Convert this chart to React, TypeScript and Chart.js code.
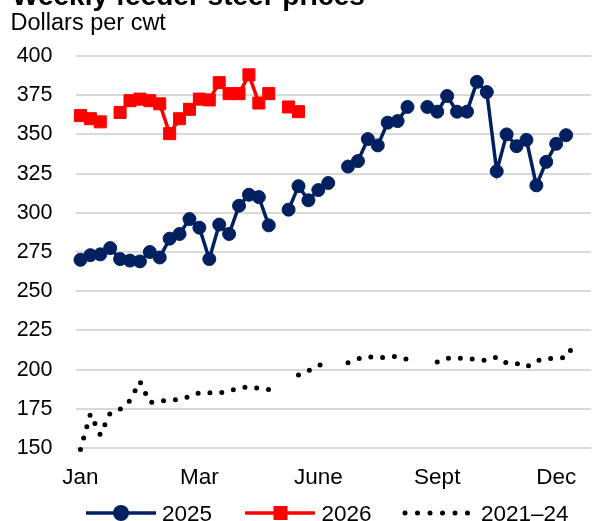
import React, { useEffect, useRef } from 'react';
import { Chart, registerables } from 'chart.js';

Chart.register(...registerables);

// ---- Data ----
const weeks: string[] = Array.from({ length: 52 }, (_, i) => `Week ${i + 1}`);
const monthTickWeeks = [0, 12, 24, 36, 48];
const monthTickLabels = ['Jan', 'Mar', 'June', 'Sept', 'Dec'];

const yMin = 150;
const yMax = 400;
const yStep = 25;

const prices2025: (number | null)[] = [
  270, 273, 273.5, 277.5, 270.5, 269.5, 269, 275, 271.5, 283.5,
  286.5, 296, 290.5, 270.5, 292.5, 286.5, 304.5, 311.5, 310, 292,
  null, 302, 317, 308, 314.5, 319, null, 329.5, 333, 347,
  343, 357.5, 358.5, 367.5, null, 367.5, 364.5, 374.5, 364.5, 364.5,
  383.5, 377, 326.5, 350, 342.5, 346.5, 317.5, 332.5, 344, 349.5,
  null, null,
];

const prices2026: (number | null)[] = [
  362, 360, 358, null, 364, 371.5, 372.5, 371.5, 369.5, 350.5,
  360, 366, 372.5, 372, 383, 376, 376, 388, 370, 376,
  null, 367.5, 364.5,
];

const avg2021to24: (number | null)[] = [
  149, 171.7, 158.3, 172.3, 174.7, 180.3, 192.4, 179, 180, 180.5,
  180.9, 182.8, 185.3, 185.3, 185.1, 186.4, 188.3, 189.1, 188, 187.3,
  188.8, null, 196.5, 199.3, 202.5, 204.8, null, 204.4, 206.8, 208.4,
  207.4, 208.2, 208.4, 206.4, 205.8, null, 204.8, 207.2, 207.2, 207.1,
  206.4, 205.8, 208, 204.2, 203.9, 201.7, 205.5, 207.1, 207.2, 207.7,
  218, null,
];

const seriesNames = ['2025', '2026', '2021\u201324'];
const titleText = 'Weekly feeder steer prices';
const unitText = 'Dollars per cwt';

// ---- Styles ----
const NAVY = '#002060';
const RED = '#FF0000';
const BLACK = '#000000';
const GRID = '#D9D9D9';
const FONT = '"Liberation Sans", Arial, Helvetica, sans-serif';

const overlayPlugin = {
  id: 'overlay',
  afterDraw(chart: any) {
    const ctx: CanvasRenderingContext2D = chart.ctx;
    ctx.save();
    ctx.fillStyle = '#000';
    ctx.textAlign = 'left';
    ctx.textBaseline = 'alphabetic';
    ctx.font = `bold 28px ${FONT}`;
    ctx.fillText(titleText, 12, 5);
    ctx.font = `23.5px ${FONT}`;
    ctx.fillText(unitText, 10.5, 29.5);

    // legend
    const ly = 513;
    const textBase = 520.5;
    ctx.font = `22.5px ${FONT}`;
    // 2025
    ctx.strokeStyle = NAVY;
    ctx.lineWidth = 3.5;
    ctx.beginPath();
    ctx.moveTo(86, ly);
    ctx.lineTo(156, ly);
    ctx.stroke();
    ctx.fillStyle = NAVY;
    ctx.beginPath();
    ctx.arc(121, ly, 8, 0, Math.PI * 2);
    ctx.fill();
    ctx.fillStyle = '#000';
    ctx.fillText(seriesNames[0], 162, textBase);
    // 2026
    ctx.strokeStyle = RED;
    ctx.beginPath();
    ctx.moveTo(245, ly);
    ctx.lineTo(315, ly);
    ctx.stroke();
    ctx.fillStyle = RED;
    ctx.fillRect(280.5 - 7, ly - 7, 14, 14);
    ctx.fillStyle = '#000';
    ctx.fillText(seriesNames[1], 321.5, textBase);
    // 2021-24
    ctx.fillStyle = BLACK;
    for (let k = 0; k < 6; k++) {
      ctx.beginPath();
      ctx.arc(405 + k * 12.5, ly, 2.5, 0, Math.PI * 2);
      ctx.fill();
    }
    ctx.fillStyle = '#000';
    ctx.fillText(seriesNames[2], 481, textBase);
    ctx.restore();
  },
};

export default function App() {
  const canvasRef = useRef<HTMLCanvasElement | null>(null);

  useEffect(() => {
    if (!canvasRef.current) return;
    Chart.defaults.font.family = FONT;
    const chart = new Chart(canvasRef.current, {
      type: 'line',
      data: {
        labels: weeks,
        datasets: [
          {
            label: seriesNames[0],
            data: prices2025,
            borderColor: NAVY,
            backgroundColor: NAVY,
            borderWidth: 3.5,
            pointStyle: 'circle',
            pointRadius: 6.5,
            pointBorderWidth: 1,
            pointBorderColor: NAVY,
            pointBackgroundColor: NAVY,
            spanGaps: false,
            tension: 0,
          },
          {
            label: seriesNames[1],
            data: prices2026,
            borderColor: RED,
            backgroundColor: RED,
            borderWidth: 3.5,
            pointStyle: 'rect',
            pointRadius: 8.5,
            pointBorderWidth: 1,
            pointBorderColor: RED,
            pointBackgroundColor: RED,
            spanGaps: false,
            tension: 0,
          },
          {
            label: seriesNames[2],
            data: avg2021to24,
            borderColor: BLACK,
            borderWidth: 5,
            borderDash: [0, 11.9],
            borderCapStyle: 'round',
            pointRadius: 0,
            spanGaps: false,
            tension: 0,
            clip: false,
          } as any,
        ],
      },
      options: {
        responsive: false,
        devicePixelRatio: 1,
        animation: false,
        events: [],
        layout: { padding: { top: 56, left: 0, right: 0, bottom: 0 } },
        plugins: {
          legend: { display: false },
          tooltip: { enabled: false },
          title: { display: false },
        },
        scales: {
          x: {
            type: 'category',
            offset: true,
            grid: { display: false, drawTicks: false },
            border: { display: false },
            ticks: {
              autoSkip: false,
              maxRotation: 0,
              minRotation: 0,
              padding: 16,
              color: '#000',
              font: { size: 22.5, family: FONT },
              callback: (_v: any, index: number) => {
                const k = monthTickWeeks.indexOf(index);
                return k >= 0 ? monthTickLabels[k] : '';
              },
            },
            afterFit: (scale: any) => {
              scale.height = 73;
            },
          },
          y: {
            min: yMin,
            max: yMax,
            grid: { color: GRID, lineWidth: 2, drawTicks: false },
            border: { display: false },
            ticks: {
              stepSize: yStep,
              padding: 23,
              color: '#000',
              font: { size: 21.5, family: FONT },
            },
            afterFit: (scale: any) => {
              scale.width = 75.5;
            },
          },
        },
      },
      plugins: [overlayPlugin],
    });
    return () => chart.destroy();
  }, []);

  return (
    <div
      style={{
        position: 'fixed',
        left: 0,
        top: 0,
        width: 597,
        height: 521,
        overflow: 'hidden',
        background: '#fff',
      }}
    >
      <canvas
        ref={canvasRef}
        width={602}
        height={521}
        style={{ position: 'absolute', left: 0, top: 0, width: 602, height: 521 }}
      />
    </div>
  );
}
